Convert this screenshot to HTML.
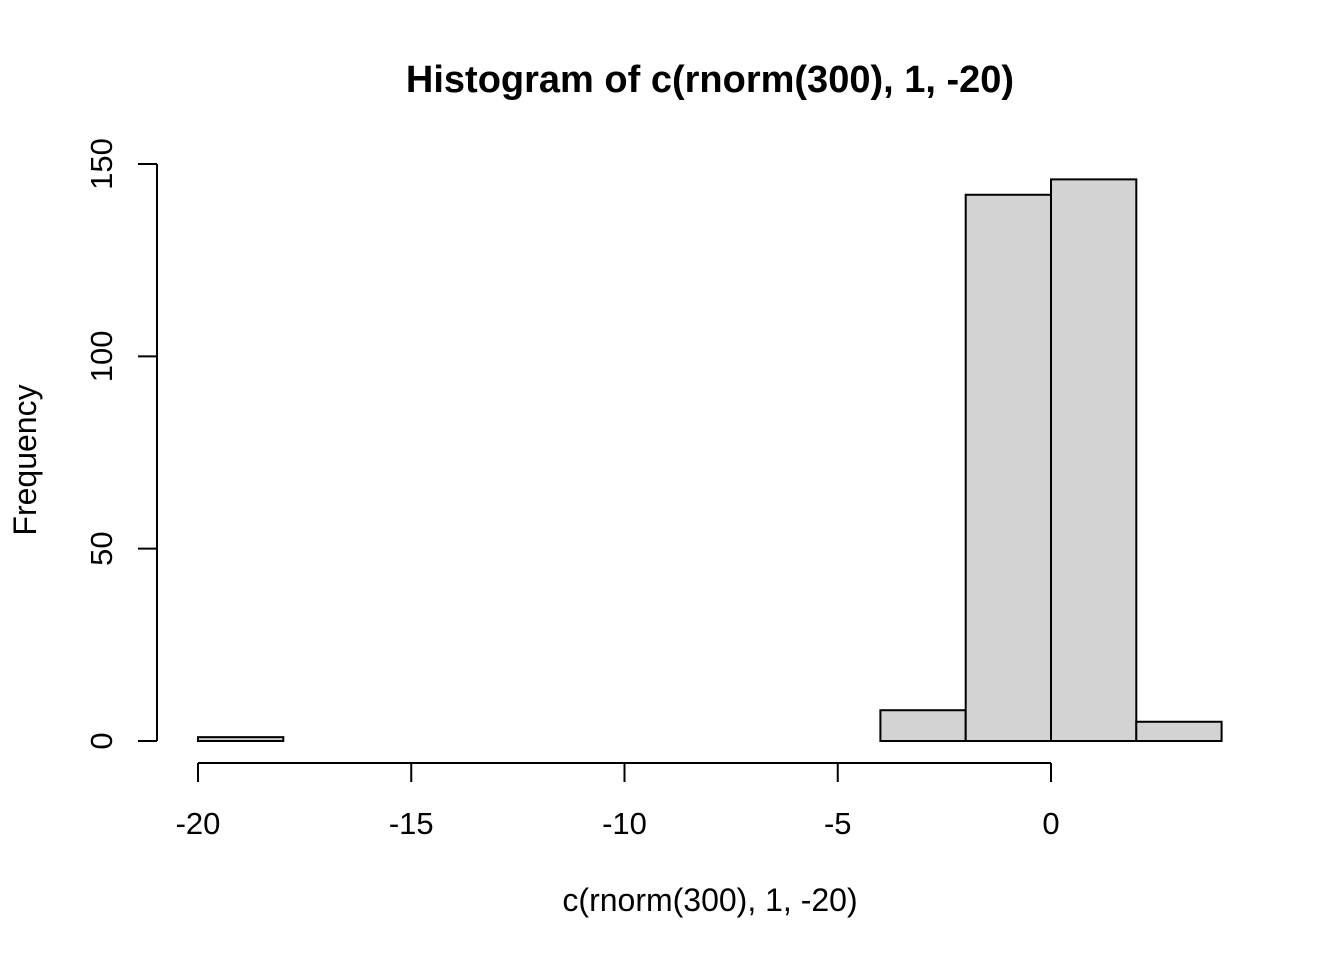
<!DOCTYPE html>
<html><head><meta charset="utf-8"><style>
html,body{margin:0;padding:0;background:#fff}
svg{display:block;font-family:"Liberation Sans",Arial,sans-serif}
</style></head><body>
<svg id="chart" width="1344" height="960" viewBox="0 0 1344 960">
<text x="710" y="92" text-anchor="middle" font-size="38" font-weight="bold">Histogram of c(rnorm(300), 1, -20)</text>
<text x="710" y="911" text-anchor="middle" font-size="32">c(rnorm(300), 1, -20)</text>
<text x="0" y="0" transform="translate(36,460) rotate(-90)" text-anchor="middle" font-size="32">Frequency</text>
<g id="bars"></g>
<g id="xaxis"></g>
<g id="yaxis"></g>
</svg>
<script>
const binEdges = [-20,-18,-16,-14,-12,-10,-8,-6,-4,-2,0,2,4];
const counts = [1,0,0,0,0,0,0,0,8,142,146,5];
const xTicks = [-20,-15,-10,-5,0];
const yTicks = [0,50,100,150];
const NS = "http://www.w3.org/2000/svg";
const xs = v => 198 + (v + 20) * 42.65;
const ys = v => 741 - v * 3.8467;
const bars = document.getElementById('bars');
counts.forEach((c,i)=>{
  const r = document.createElementNS(NS,'rect');
  const x0 = xs(binEdges[i]), x1 = xs(binEdges[i+1]);
  r.setAttribute('x', x0); r.setAttribute('width', x1-x0);
  r.setAttribute('y', ys(c)); r.setAttribute('height', ys(0)-ys(c));
  r.setAttribute('fill','#d3d3d3'); r.setAttribute('stroke','#000'); r.setAttribute('stroke-width','2');
  
  
  bars.appendChild(r);
});
function line(g,x1,y1,x2,y2){const l=document.createElementNS(NS,'line');l.setAttribute('x1',x1);l.setAttribute('y1',y1);l.setAttribute('x2',x2);l.setAttribute('y2',y2);l.setAttribute('stroke','#000');l.setAttribute('stroke-width','2');g.appendChild(l);return l;}
const xa = document.getElementById('xaxis');
line(xa, xs(xTicks[0]), 763, xs(xTicks[xTicks.length-1]), 763);
xTicks.forEach(t=>{
  line(xa, xs(t), 763, xs(t), 782);
  const tx = document.createElementNS(NS,'text');
  tx.setAttribute('x', xs(t)); tx.setAttribute('y', 834);
  tx.setAttribute('text-anchor','middle'); tx.setAttribute('font-size','31');
  tx.textContent = t;
  
  
  xa.appendChild(tx);
});
const ya = document.getElementById('yaxis');
line(ya, 157, ys(yTicks[0]), 157, ys(yTicks[yTicks.length-1]));
yTicks.forEach(t=>{
  line(ya, 138, ys(t), 157, ys(t));
  const tx = document.createElementNS(NS,'text');
  tx.setAttribute('transform', `translate(112,${ys(t)}) rotate(-90)`);
  tx.setAttribute('text-anchor','middle'); tx.setAttribute('font-size','31');
  tx.textContent = t;
  
  
  ya.appendChild(tx);
});
</script>
</body></html>
